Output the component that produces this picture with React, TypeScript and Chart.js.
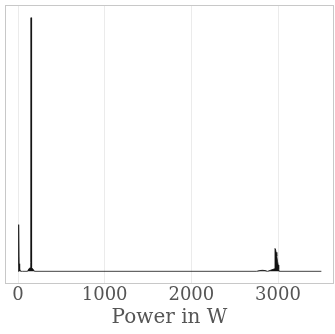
import React, { useEffect, useRef } from "react";
import { Chart, registerables } from "chart.js";

Chart.register(...registerables);

const powerW = [0, 4, 8, 11, 13, 16, 22, 30, 50, 110, 125, 140, 147, 150, 153, 160, 175, 190, 2750, 2790, 2820, 2850, 2880, 2960, 2965, 2970, 2978, 2986, 2994, 3002, 3008, 3014, 3500];
const density = [0, 0.02, 0.03, 0.184, 0.03, 0.015, 0.01, 0, 0, 0, 0.01, 0.014, 0.035, 1.0, 0.035, 0.014, 0.008, 0, 0, 0.003, 0.004, 0.003, 0, 0.01, 0.09, 0.088, 0.075, 0.06, 0.04, 0.025, 0.01, 0, 0];
const tickValues = [0, 1000, 2000, 3000];
const xLabel = "Power in W";

const framePlugin = {
  id: "frame",
  afterDraw(chart: any) {
    const { ctx, chartArea } = chart;
    ctx.save();
    ctx.strokeStyle = "#c8c8c8";
    ctx.lineWidth = 1;
    ctx.strokeRect(chartArea.left + 0.5, chartArea.top + 0.5, chartArea.right - chartArea.left - 1, chartArea.bottom - chartArea.top - 1);
    ctx.restore();
  },
};

export default function App() {
  const ref = useRef<HTMLCanvasElement | null>(null);
  useEffect(() => {
    if (!ref.current) return;
    const chart = new Chart(ref.current, {
      type: "line",
      data: {
        datasets: [
          {
            data: powerW.map((x, i) => ({ x, y: density[i] })),
            borderColor: "#111",
            backgroundColor: "#111",
            borderWidth: 0.8,
            pointRadius: 0,
            fill: "origin",
            tension: 0,
          },
        ],
      },
      plugins: [framePlugin],
      options: {
        animation: false,
        responsive: false,
        maintainAspectRatio: false,
        layout: { padding: { left: 5, right: 1, top: 5, bottom: 4 } },
        plugins: { legend: { display: false }, tooltip: { enabled: false } },
        scales: {
          x: {
            type: "linear",
            min: -150,
            max: 3646,
            afterBuildTicks: (axis: any) => {
              axis.ticks = tickValues.map((v) => ({ value: v }));
            },
            grid: { color: "#ebebeb", drawTicks: false },
            border: { display: false },
            ticks: {
              color: "#555",
              padding: 2,
              maxRotation: 0,
              callback: (v: any) => String(v),
              font: { family: "DejaVu Serif", size: 18, lineHeight: 1 },
            },
            title: {
              display: true,
              text: xLabel,
              color: "#555",
              padding: { top: 0, bottom: 0 },
              font: { family: "DejaVu Serif", size: 20, lineHeight: 1.2 },
            },
          },
          y: {
            display: false,
            min: -0.05,
            max: 1.05,
          },
        },
      },
    });
    return () => chart.destroy();
  }, []);
  return (
    <div style={{ position: "absolute", left: 0, top: 0, width: 335, height: 334, background: "#fff" }}>
      <canvas ref={ref} width={335} height={334} />
    </div>
  );
}
